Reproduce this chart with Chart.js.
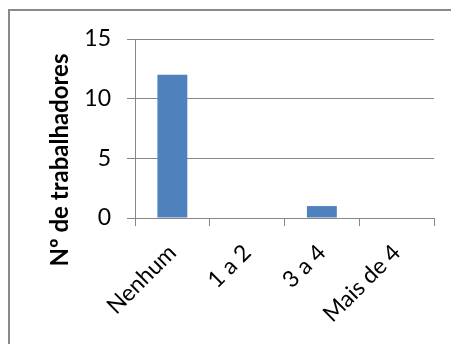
<!DOCTYPE html>
<html>
<head>
<meta charset="utf-8">
<script src="https://cdn.jsdelivr.net/npm/chart.js@4"></script>
<style>
  html, body { margin: 0; padding: 0; background: #fff; overflow: hidden; }
</style>
</head>
<body>
<canvas id="chart" width="451" height="344"></canvas>
<script>
const categories = ["Nenhum", "1 a 2", "3 a 4", "Mais de 4"];
const workers = [12, 0, 1, 0];
const yTicks = [0, 5, 10, 15];
const yTitle = "Nº de trabalhadores";

const gridColor = "#868686";
const fontFamily = "Lato, 'Open Sans', sans-serif";

// outer chart frame, running off the right and bottom edges
const frame = {
  id: "frame",
  beforeDraw(chart) {
    const c = chart.ctx;
    c.save();
    c.fillStyle = "#fff";
    c.fillRect(0, 0, chart.width, chart.height);
    c.strokeStyle = "#8a8a8a";
    c.lineWidth = 2;
    c.strokeRect(9, 10, 500, 400);
    c.restore();
  },
};

// vertical axis title, centred on the whole figure height rather than the plot
const sideTitle = {
  id: "sideTitle",
  afterDraw(chart) {
    const c = chart.ctx;
    c.save();
    c.translate(60, 160);
    c.rotate(-Math.PI / 2);
    c.font = "bold 24px " + fontFamily;
    c.fillStyle = "#000";
    c.textAlign = "center";
    c.textBaseline = "middle";
    c.fillText(yTitle, 0, 0);
    c.restore();
  },
};

const ctx = document.getElementById("chart").getContext("2d");

new Chart(ctx, {
  type: "bar",
  data: {
    labels: categories,
    datasets: [
      {
        data: workers,
        backgroundColor: "#4F81BD",
        borderWidth: 0,
        barPercentage: 1,
        categoryPercentage: 0.4,
      },
    ],
  },
  options: {
    responsive: false,
    animation: false,
    layout: { padding: { top: 39, right: 17, left: 0, bottom: 0 } },
    plugins: {
      legend: { display: false },
      tooltip: { enabled: false },
    },
    scales: {
      x: {
        grid: {
          offset: true,
          drawOnChartArea: false,
          drawTicks: true,
          tickLength: 8,
          color: gridColor,
          lineWidth: 1,
        },
        border: { color: gridColor, width: 1 },
        ticks: {
          color: "#000",
          font: { family: fontFamily, size: 23 },
          minRotation: 45,
          maxRotation: 45,
          padding: 13,
        },
        afterFit: (scale) => { scale.height = 126; },
      },
      y: {
        min: 0,
        max: 15,
        afterBuildTicks: (scale) => {
          scale.ticks = yTicks.map((v) => ({ value: v }));
        },
        grid: {
          color: gridColor,
          lineWidth: 1,
          tickLength: 8,
        },
        border: { color: gridColor, width: 1 },
        ticks: {
          color: "#000",
          font: { family: fontFamily, size: 23 },
          padding: 16,
        },
        afterFit: (scale) => { scale.width = 135; },
      },
    },
  },
  plugins: [frame, sideTitle],
});
</script>
</body>
</html>
